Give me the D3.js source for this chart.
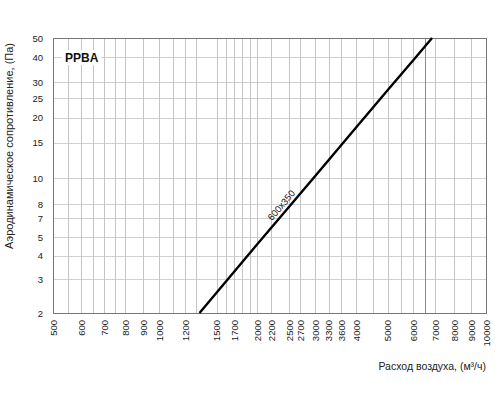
<!DOCTYPE html>
<html>
<head>
<meta charset="utf-8">
<script src="https://cdn.jsdelivr.net/npm/d3@7"></script>
<style>
  html, body { margin: 0; padding: 0; background: #fff; }
  svg { display: block; font-family: "Liberation Sans", Arial, sans-serif; }
</style>
</head>
<body>
<svg id="chart" width="500" height="400"></svg>
<script>
// air flow, m3/h
const flowTicks = [500, 600, 700, 800, 900, 1000, 1200, 1500, 1700, 2000, 2200, 2500,
  2700, 3000, 3300, 3600, 4000, 5000, 6000, 7000, 8000, 9000, 10000];
const flowGrid = [550, 600, 650, 700, 750, 800, 900, 1000, 1100, 1200, 1300, 1500, 1600,
  1700, 1800, 1900, 2000, 2200, 2500, 2700, 3000, 3300, 3600, 4000, 4500, 5000, 5500,
  6000, 7000, 8000, 9000];
const flowGridDark = [6500];
// pressure drop, Pa
const pressureTicks = [2, 3, 4, 5, 7, 8, 10, 15, 20, 25, 30, 40, 50];

// curve 600x350
const curveName = "600x350";
const curveFlow = [1330, 2000, 2500, 3000, 4000, 5000, 6000, 6840];
const curvePressure = [2, 4.6, 7.8, 10.2, 17.8, 27.4, 38.8, 50];
const labelIndex = 2;

const svg = d3.select("#chart");
const plotLeft = 53, plotRight = 486, plotTop = 38, plotBottom = 313;

// the printed grid is not a clean log grid, so both scales are piecewise log
const x = d3.scaleLog().domain([500, 1000, 10000]).range([plotLeft, 159, plotRight]);
const y = d3.scaleLog().domain([2, 5, 7, 8, 10, 50]).range([plotBottom, 237, 218, 204, 178, plotTop]);

const grid = svg.append("g");

grid.selectAll("line.h")
  .data(pressureTicks)
  .enter()
  .append("line")
  .attr("class", "h")
  .attr("x1", plotLeft)
  .attr("x2", plotRight)
  .attr("y1", (d) => Math.round(y(d)) + 0.5)
  .attr("y2", (d) => Math.round(y(d)) + 0.5)
  .attr("stroke", "#d0d0d0");

grid.selectAll("line.v")
  .data(flowGrid)
  .enter()
  .append("line")
  .attr("class", "v")
  .attr("x1", (d) => Math.round(x(d)) + 0.5)
  .attr("x2", (d) => Math.round(x(d)) + 0.5)
  .attr("y1", plotTop)
  .attr("y2", plotBottom)
  .attr("stroke", "#c4c4c4");

grid.selectAll("line.vd")
  .data(flowGridDark)
  .enter()
  .append("line")
  .attr("class", "vd")
  .attr("x1", (d) => Math.round(x(d)) + 0.5)
  .attr("x2", (d) => Math.round(x(d)) + 0.5)
  .attr("y1", plotTop)
  .attr("y2", plotBottom)
  .attr("stroke", "#8c8c8c");

// frame
svg.append("rect")
  .attr("x", plotLeft + 0.5)
  .attr("y", plotTop + 0.5)
  .attr("width", plotRight - plotLeft)
  .attr("height", plotBottom - plotTop)
  .attr("fill", "none")
  .attr("stroke", "#777");

// title box
svg.append("rect")
  .attr("x", 62)
  .attr("y", 50)
  .attr("width", 39)
  .attr("height", 15)
  .attr("fill", "#fff");

svg.append("text")
  .attr("x", 65)
  .attr("y", 62)
  .attr("font-size", 12)
  .attr("font-weight", "bold")
  .attr("fill", "#111")
  .text("PPBA");

// axes
const xAxis = svg.append("g")
  .attr("transform", `translate(0,${plotBottom})`)
  .call(d3.axisBottom(x).tickValues(flowTicks).tickFormat(d3.format("d")).tickSize(0));
xAxis.select(".domain").remove();
xAxis.selectAll("text")
  .attr("transform", "rotate(-90)")
  .attr("x", -7)
  .attr("y", 0)
  .attr("dy", "0.35em")
  .attr("text-anchor", "end")
  .attr("font-size", 9.5)
  .attr("font-family", "Liberation Sans, Arial, sans-serif")
  .attr("fill", "#222");

const yAxis = svg.append("g")
  .attr("transform", `translate(${plotLeft},0)`)
  .call(d3.axisLeft(y).tickValues(pressureTicks).tickFormat(d3.format("d")).tickSize(0).tickPadding(10));
yAxis.select(".domain").remove();
yAxis.selectAll("text")
  .attr("font-size", 9.5)
  .attr("font-family", "Liberation Sans, Arial, sans-serif")
  .attr("fill", "#222");

// curve
const points = curveFlow.map((q, i) => [q, curvePressure[i]]);
const line = d3.line()
  .x((d) => x(d[0]))
  .y((d) => y(d[1]));

svg.append("path")
  .datum(points)
  .attr("d", line)
  .attr("fill", "none")
  .attr("stroke", "#000")
  .attr("stroke-width", 2.4);

const first = points[0], last = points[points.length - 1];
const angle = Math.atan2(y(last[1]) - y(first[1]), x(last[0]) - x(first[0])) * 180 / Math.PI;
const lp = points[labelIndex];
svg.append("text")
  .attr("transform", `translate(${x(lp[0])},${y(lp[1])}) rotate(${angle})`)
  .attr("x", -4)
  .attr("y", -3.5)
  .attr("text-anchor", "middle")
  .attr("font-size", 9.5)
  .attr("fill", "#111")
  .text(curveName);

// axis titles
svg.append("text")
  .attr("x", plotRight)
  .attr("y", 370)
  .attr("text-anchor", "end")
  .attr("font-size", 10.5)
  .attr("fill", "#222")
  .text("Расход воздуха, (м³/ч)");

svg.append("text")
  .attr("transform", "translate(13,146) rotate(-90)")
  .attr("text-anchor", "middle")
  .attr("font-size", 11)
  .attr("fill", "#222")
  .text("Аэродинамическое сопротивление, (Па)");
</script>
</body>
</html>
